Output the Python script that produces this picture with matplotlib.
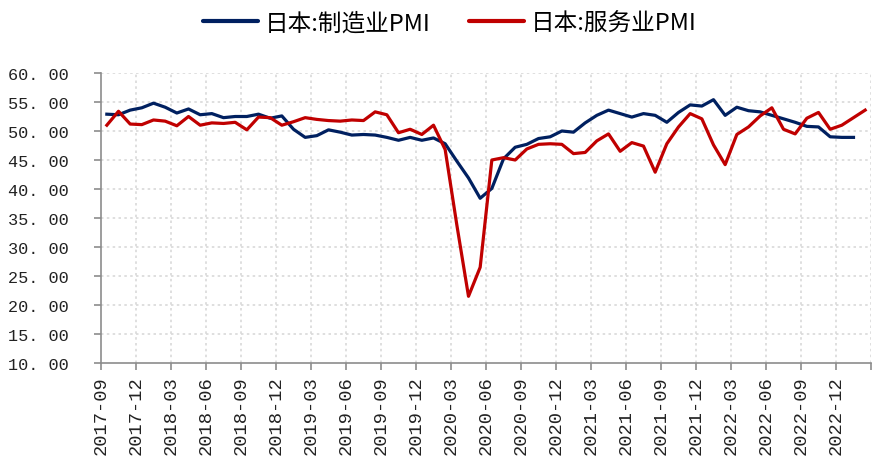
import matplotlib
matplotlib.use("Agg")
import matplotlib.pyplot as plt
import matplotlib.transforms as mtransforms
from matplotlib.lines import Line2D

months = ["2017-09","2017-10","2017-11","2017-12",
          "2018-01","2018-02","2018-03","2018-04","2018-05","2018-06","2018-07","2018-08","2018-09","2018-10","2018-11","2018-12",
          "2019-01","2019-02","2019-03","2019-04","2019-05","2019-06","2019-07","2019-08","2019-09","2019-10","2019-11","2019-12",
          "2020-01","2020-02","2020-03","2020-04","2020-05","2020-06","2020-07","2020-08","2020-09","2020-10","2020-11","2020-12",
          "2021-01","2021-02","2021-03","2021-04","2021-05","2021-06","2021-07","2021-08","2021-09","2021-10","2021-11","2021-12",
          "2022-01","2022-02","2022-03","2022-04","2022-05","2022-06","2022-07","2022-08","2022-09","2022-10","2022-11","2022-12",
          "2023-01","2023-02"]

manufacturing = [52.9, 52.8, 53.6, 54.0,
                 54.8, 54.1, 53.1, 53.8, 52.8, 53.0, 52.3, 52.5, 52.5, 52.9, 52.2, 52.6,
                 50.3, 48.9, 49.2, 50.2, 49.8, 49.3, 49.4, 49.3, 48.9, 48.4, 48.9, 48.4,
                 48.8, 47.8, 44.8, 41.9, 38.4, 40.1, 45.2, 47.2, 47.7, 48.7, 49.0, 50.0,
                 49.8, 51.4, 52.7, 53.6, 53.0, 52.4, 53.0, 52.7, 51.5, 53.2, 54.5, 54.3,
                 55.4, 52.7, 54.1, 53.5, 53.3, 52.7, 52.1, 51.5, 50.8, 50.7, 49.0, 48.9,
                 48.9, None]

services = [51.0, 53.4, 51.2, 51.1,
            51.9, 51.7, 50.9, 52.5, 51.0, 51.4, 51.3, 51.5, 50.2, 52.4, 52.3, 51.0,
            51.6, 52.3, 52.0, 51.8, 51.7, 51.9, 51.8, 53.3, 52.8, 49.7, 50.3, 49.4,
            51.0, 46.8, 33.8, 21.5, 26.5, 45.0, 45.4, 45.0, 46.9, 47.7, 47.8, 47.7,
            46.1, 46.3, 48.3, 49.5, 46.5, 48.0, 47.4, 42.9, 47.8, 50.7, 53.0, 52.1,
            47.6, 44.2, 49.4, 50.7, 52.6, 54.0, 50.3, 49.5, 52.2, 53.2, 50.3, 51.0,
            52.3, 53.6]

series_names = ["日本:制造业PMI", "日本:服务业PMI"]
y_ticks = [10, 15, 20, 25, 30, 35, 40, 45, 50, 55, 60]

navy = "#002060"
red = "#C00000"
grid_c = "#D9D9D9"
axis_c = "#8C8C8C"
num_font = "Liberation Mono"
cjk_font = ["Noto Sans CJK SC", "DejaVu Sans"]

fig = plt.figure(figsize=(8.74, 4.64), dpi=100)
ax = fig.add_axes([101/874, 1-364/464, 770/874, 290/464])

n = len(months)
xs = [i + 0.5 for i in range(n)]
mx = [x for x, v in zip(xs, manufacturing) if v is not None]
mv = [v for v in manufacturing if v is not None]
ax.plot(mx, mv, color=navy, lw=2.3, solid_joinstyle="round", zorder=3)
ax.plot(xs, services, color=red, lw=2.3, solid_joinstyle="round", zorder=4)

ax.set_xlim(0, n)
ax.set_ylim(10, 60)
ax.set_yticks(y_ticks)
ax.set_yticklabels([f"{v:.2f}".replace(".", ". ") for v in y_ticks],
                   fontfamily=num_font, fontsize=12.2)
tick_pos = list(range(0, n + 1, 3))
ax.set_xticks(tick_pos)
ax.set_xticklabels([months[i] if i < n else "" for i in tick_pos],
                   rotation=90, fontfamily=num_font, fontsize=13.5)
offset = mtransforms.ScaledTranslation(4/100, 0, fig.dpi_scale_trans)
for lab in ax.get_xticklabels():
    lab.set_transform(lab.get_transform() + offset)

for v in y_ticks:
    if v != 10:
        ax.axhline(v, color=grid_c, lw=1.2, ls=(0, (1.5, 2)), zorder=1)
for p in tick_pos[1:]:
    ax.axvline(p, color=grid_c, lw=1.2, ls=(0, (1.5, 2)), zorder=1)

for s in ["top", "right"]:
    ax.spines[s].set_visible(False)
for s in ["left", "bottom"]:
    ax.spines[s].set_color(axis_c)
    ax.spines[s].set_linewidth(1.2)
ax.tick_params(axis="both", color=axis_c, length=5, width=1.2, labelcolor="#222222")
ax.tick_params(axis="y", pad=18)
ax.tick_params(axis="x", pad=4)

handles = [Line2D([], [], color=navy, lw=3, solid_capstyle="round"),
           Line2D([], [], color=red, lw=3, solid_capstyle="round")]
fig.legend(handles, series_names, loc="center", bbox_to_anchor=(450/874, 1-24/464),
           ncol=2, frameon=False, prop={"family": cjk_font, "size": 17},
           handlelength=2.3, handletextpad=0.3, columnspacing=1.65)

fig.savefig("out.png", dpi=100)
